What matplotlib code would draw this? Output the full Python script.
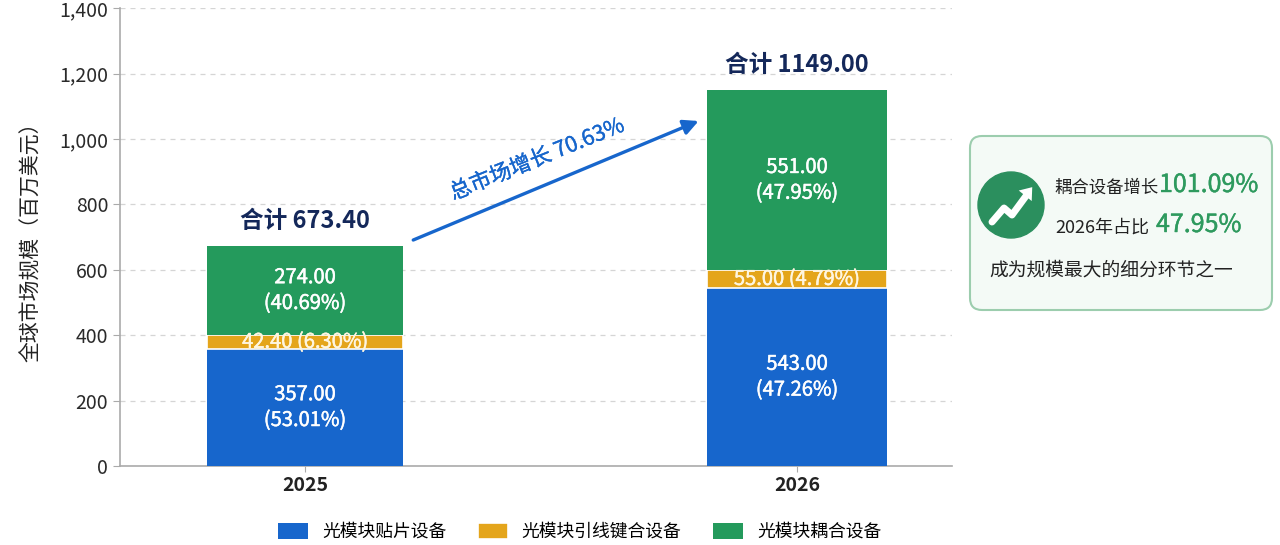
import matplotlib
matplotlib.use("Agg")
import matplotlib.pyplot as plt
import matplotlib.patheffects as pe
from matplotlib.patches import FancyBboxPatch, Circle

plt.rcParams['font.family'] = ['Noto Sans CJK SC', 'DejaVu Sans']

years = ['2025', '2026']
tiepian = [357.00, 543.00]      # 光模块贴片设备
yinxian = [42.40, 55.00]        # 光模块引线键合设备
ouhe = [274.00, 551.00]         # 光模块耦合设备
tiepian_pct = [53.01, 47.26]
yinxian_pct = [6.30, 4.79]
ouhe_pct = [40.69, 47.95]
totals = [673.40, 1149.00]
growth_total = 70.63
growth_ouhe = 101.09
share_ouhe_2026 = 47.95
series_names = ['光模块贴片设备', '光模块引线键合设备', '光模块耦合设备']

c_blue = '#1766CC'
c_gold = '#E4A51B'
c_green = '#249A5C'
navy = '#14285A'


def semi(color, lw=0.35):
    # slightly heavier strokes, the CJK font has no medium weight here
    return [pe.withStroke(linewidth=lw, foreground=color)]


fig = plt.figure(figsize=(12.8, 5.45), dpi=100)
ax = fig.add_axes([0.09375, 0.145, 0.650, 0.840])

x = [0, 1]
w = [0.40, 0.366]
b1 = ax.bar(x, tiepian, w, color=c_blue, label=series_names[0], zorder=3)
b2 = ax.bar(x, yinxian, w, bottom=tiepian, color=c_gold, label=series_names[1],
            zorder=3, edgecolor='white', linewidth=1.2)
bot3 = [a + b for a, b in zip(tiepian, yinxian)]
b3 = ax.bar(x, ouhe, w, bottom=bot3, color=c_green, label=series_names[2], zorder=3)

for i in x:
    ax.text(i, tiepian[i] / 2, f'{tiepian[i]:.2f}\n({tiepian_pct[i]:.2f}%)',
            ha='center', va='center', color='white', fontsize=14.5, linespacing=1.3,
            path_effects=semi('white'), zorder=4)
    ax.text(i, tiepian[i] + yinxian[i] / 2, f'{yinxian[i]:.2f} ({yinxian_pct[i]:.2f}%)',
            ha='center', va='center', color='#FFF6E0', fontsize=14.5,
            path_effects=semi('#FFF6E0'), zorder=4)
    ax.text(i, bot3[i] + ouhe[i] / 2, f'{ouhe[i]:.2f}\n({ouhe_pct[i]:.2f}%)',
            ha='center', va='center', color='white', fontsize=14.5, linespacing=1.3,
            path_effects=semi('white'), zorder=4)
    ax.text(i, totals[i] + 40, f'合计 {totals[i]:.2f}', ha='center', va='bottom',
            color=navy, fontsize=17, fontweight='bold', zorder=4)

# growth arrow
ax.annotate('', xy=(0.80, 1055), xytext=(0.22, 691),
            arrowprops=dict(arrowstyle='-|>,head_length=0.9,head_width=0.45',
                            color=c_blue, lw=2.4, shrinkA=0, shrinkB=0), zorder=5)
ax.text(0.472, 937, f'总市场增长 {growth_total:.2f}%', rotation=22, ha='center', va='center',
        color=c_blue, fontsize=15.5, rotation_mode='anchor', path_effects=semi(c_blue, 0.25),
        zorder=5)

ax.set_xlim(-0.376, 1.315)
ax.set_ylim(0, 1400)
ax.set_yticks(range(0, 1401, 200))
ax.set_yticklabels([f'{v:,}' for v in range(0, 1401, 200)], fontsize=14, color='#2a2a2a')
ax.set_xticks(x)
ax.set_xticklabels(years, fontsize=14, fontweight='bold', color='#222222')
ax.set_ylabel('全球市场规模（百万美元）', fontsize=15, color='#222222', labelpad=12)
ax.grid(axis='y', linestyle=(0, (4, 4)), color='#d5d5d5', linewidth=0.9, zorder=0)
for s in ['top', 'right']:
    ax.spines[s].set_visible(False)
ax.spines['left'].set_color('#aaaaaa')
ax.spines['bottom'].set_color('#aaaaaa')
ax.spines['left'].set_linewidth(1.2)
ax.spines['bottom'].set_linewidth(1.2)
ax.tick_params(axis='y', length=5, color='#aaaaaa')
ax.tick_params(axis='x', length=4, color='#aaaaaa')

fig.legend(handles=[b1, b2, b3], labels=series_names, loc='center', bbox_to_anchor=(0.453, 0.024),
           ncol=3, frameon=False, fontsize=12.8, handlelength=1.65, handleheight=1.0,
           columnspacing=1.8, handletextpad=0.8)

# right info box in pixel coordinates
ov = fig.add_axes([0, 0, 1, 1])
ov.set_xlim(0, 1280)
ov.set_ylim(545, 0)
ov.axis('off')
ov.add_patch(FancyBboxPatch((970, 136), 302, 174, boxstyle='round,pad=0,rounding_size=12',
                            facecolor='#F4FAF6', edgecolor='#9CCDAE', linewidth=1.5))
ov.add_patch(Circle((1011, 205), 33, color='#2B8F5E'))
ov.plot([992, 1004, 1012, 1026], [222, 208, 215, 196], color='white', lw=5,
        solid_capstyle='round', solid_joinstyle='round')
ov.annotate('', xy=(1034, 185), xytext=(1021, 201),
            arrowprops=dict(arrowstyle='-|>,head_length=0.8,head_width=0.6', color='white', lw=0))
ov.text(1054, 188, '耦合设备增长', fontsize=12.5, color='#222222', va='center', ha='left')
ov.text(1159, 185, f'{growth_ouhe:.2f}%', fontsize=18, color='#2E9A5E', va='center', ha='left',
        path_effects=semi('#2E9A5E', 0.3))
ov.text(1055, 228, '2026年占比', fontsize=13, color='#222222', va='center', ha='left')
ov.text(1156, 225, f'{share_ouhe_2026:.2f}%', fontsize=18, color='#2E9A5E', va='center', ha='left',
        path_effects=semi('#2E9A5E', 0.3))
ov.text(989, 270, '成为规模最大的细分环节之一', fontsize=13.5, color='#222222', va='center', ha='left')

fig.savefig('out.png', dpi=100, facecolor='white')
